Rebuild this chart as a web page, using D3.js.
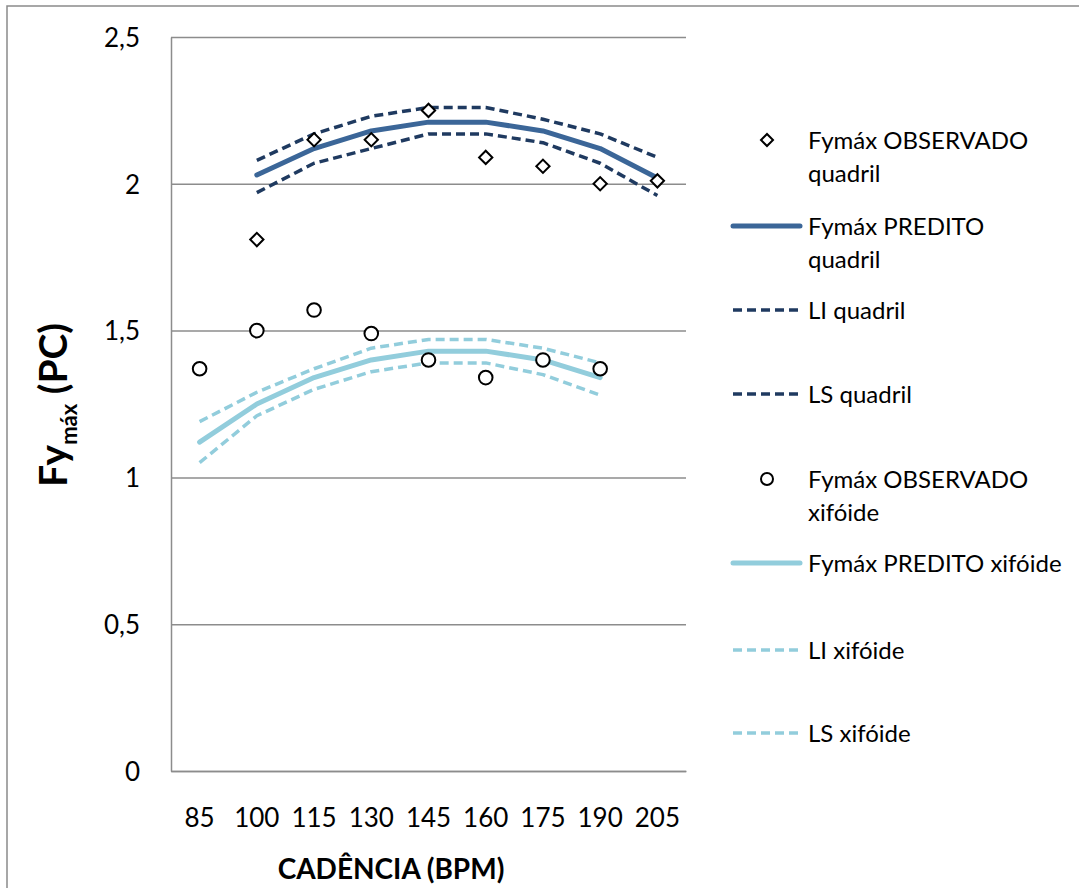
<!DOCTYPE html>
<html><head><meta charset="utf-8">
<script src="https://cdn.jsdelivr.net/npm/d3@7"></script>
<style>body{margin:0;background:#fff} svg{display:block} text{font-family:Lato, "Open Sans", sans-serif;fill:#000}</style>
</head><body><svg id="c" width="1079" height="888"></svg>
<script>
const categories = ["85","100","115","130","145","160","175","190","205"];
const obsQuadril  = [null,1.81,2.15,2.15,2.25,2.09,2.06,2.00,2.01];
const predQuadril = [null,2.03,2.12,2.18,2.21,2.21,2.18,2.12,2.02];
const liQuadril   = [null,1.97,2.07,2.12,2.17,2.17,2.14,2.07,1.96];
const lsQuadril   = [null,2.08,2.17,2.23,2.26,2.26,2.22,2.17,2.09];
const obsXifoide  = [1.37,1.50,1.57,1.49,1.40,1.34,1.40,1.37,null];
const predXifoide = [1.12,1.25,1.34,1.40,1.43,1.43,1.40,1.34,null];
const liXifoide   = [1.05,1.21,1.30,1.36,1.39,1.39,1.35,1.28,null];
const lsXifoide   = [1.19,1.29,1.37,1.44,1.47,1.47,1.44,1.39,null];
const yTicks = [0,0.5,1,1.5,2,2.5];
const legendLabels = [
  ["Fymáx OBSERVADO","quadril"],
  ["Fymáx PREDITO","quadril"],
  ["LI quadril"],
  ["LS quadril"],
  ["Fymáx OBSERVADO","xifóide"],
  ["Fymáx PREDITO xifóide"],
  ["LI xifóide"],
  ["LS xifóide"]
];
const xTitle = "CADÊNCIA (BPM)";

const C_Q = "#3b6698", C_QD = "#1f3a60", C_X = "#92cddc";
const svg = d3.select("#c");
const W = {l:171, r:686, t:37, b:771};
const x = d3.scaleBand().domain(categories).range([W.l, W.r]);
const cx = c => x(c) + x.bandwidth()/2;
const y = d3.scaleLinear().domain([0,2.5]).range([W.b, W.t]);

// outer border
svg.append("rect").attr("x",7).attr("y",6).attr("width",1090).attr("height",900)
  .attr("fill","none").attr("stroke","#8a8a8a").attr("stroke-width",1.5);

// gridlines
const grid = svg.append("g").attr("transform",`translate(${W.l},0)`)
  .call(d3.axisLeft(y).tickValues(yTicks).tickSize(-(W.r-W.l)).tickFormat(""));
grid.select(".domain").remove();
grid.selectAll("line").attr("stroke","#8c8c8c").attr("stroke-width",1.5);

// y axis line + labels
const ya = svg.append("g").attr("transform",`translate(${W.l},0)`)
  .call(d3.axisLeft(y).tickValues(yTicks).tickSize(0).tickPadding(31)
    .tickFormat(d => String(d).replace(".",",")));
ya.select(".domain").attr("stroke","#8c8c8c").attr("stroke-width",1.5);
ya.selectAll("text").attr("font-size",26).attr("font-family","Lato").attr("dy","0.36em");

// x axis
const xa = svg.append("g").attr("transform",`translate(0,${W.b})`)
  .call(d3.axisBottom(x).tickSize(0).tickPadding(0));
xa.select(".domain").attr("stroke","#8c8c8c").attr("stroke-width",1.5);
xa.selectAll("text").attr("font-size",26).attr("font-family","Lato").attr("y",56).attr("dy",0);

// lines
const line = d3.line().defined(d => d.v != null).x(d => cx(d.c)).y(d => y(d.v));
const toPts = arr => categories.map((c,i) => ({c, v: arr[i]}));
const series = [
  {data: predQuadril, color: C_Q, w: 5, dash: null},
  {data: liQuadril, color: C_QD, w: 3.5, dash: "9,5"},
  {data: lsQuadril, color: C_QD, w: 3.5, dash: "9,5"},
  {data: predXifoide, color: C_X, w: 5, dash: null},
  {data: liXifoide, color: C_X, w: 3.5, dash: "9,5"},
  {data: lsXifoide, color: C_X, w: 3.5, dash: "9,5"}
];
series.forEach(s => {
  svg.append("path").datum(toPts(s.data)).attr("d", line)
    .attr("fill","none").attr("stroke", s.color).attr("stroke-width", s.w)
    .attr("stroke-dasharray", s.dash).attr("stroke-linecap", s.dash ? "butt" : "round")
    .attr("stroke-linejoin","round");
});

// markers
const diamond = d3.symbol().type(d3.symbolSquare).size(88);
svg.append("g").selectAll("path").data(toPts(obsQuadril).filter(d => d.v != null)).join("path")
  .attr("d", diamond()).attr("transform", d => `translate(${cx(d.c)},${y(d.v)}) rotate(45)`)
  .attr("fill","#fff").attr("stroke","#000").attr("stroke-width",2);
svg.append("g").selectAll("circle").data(toPts(obsXifoide).filter(d => d.v != null)).join("circle")
  .attr("cx", d => cx(d.c)).attr("cy", d => y(d.v)).attr("r", 6.8)
  .attr("fill","#fff").attr("stroke","#000").attr("stroke-width",2);

// legend
const legY = [140,226,310,394,479,563,650,733];
const legType = [
  {m:"diamond"},{l:C_Q,w:5},{l:C_QD,w:3.5,d:"9,5"},{l:C_QD,w:3.5,d:"9,5"},
  {m:"circle"},{l:C_X,w:5},{l:C_X,w:3.5,d:"9,5"},{l:C_X,w:3.5,d:"9,5"}
];
const lg = svg.append("g");
legendLabels.forEach((lab,i) => {
  const t = legType[i], yy = legY[i];
  if (t.m === "diamond") {
    lg.append("path").attr("d", d3.symbol().type(d3.symbolSquare).size(72)())
      .attr("transform",`translate(767,${yy}) rotate(45)`).attr("fill","#fff").attr("stroke","#000").attr("stroke-width",2);
  } else if (t.m === "circle") {
    lg.append("circle").attr("cx",767).attr("cy",yy).attr("r",6).attr("fill","#fff").attr("stroke","#000").attr("stroke-width",2);
  } else {
    lg.append("line").attr("x1",733).attr("x2",800).attr("y1",yy).attr("y2",yy)
      .attr("stroke",t.l).attr("stroke-width",t.w).attr("stroke-dasharray",t.d||null)
      .attr("stroke-linecap", t.d ? "butt" : "round");
  }
  const tx = lg.append("text").attr("x",808).attr("y",yy).attr("font-size",24);
  lab.forEach((s,j) => tx.append("tspan").attr("x",808).attr("y", yy + j*33).attr("dy","0.36em").text(s));
});

// axis titles
svg.append("text").attr("x",391).attr("y",879).attr("text-anchor","middle")
  .attr("font-size",28).attr("font-weight","bold").text(xTitle);
const yt = svg.append("text").attr("transform","translate(67,405) rotate(-90)")
  .attr("text-anchor","middle").attr("font-weight","bold").attr("font-size",39);
yt.append("tspan").text("Fy");
yt.append("tspan").attr("font-size",22).attr("dy",10).text("máx");
yt.append("tspan").attr("dy",-10).text(" (PC)");
</script></body></html>
